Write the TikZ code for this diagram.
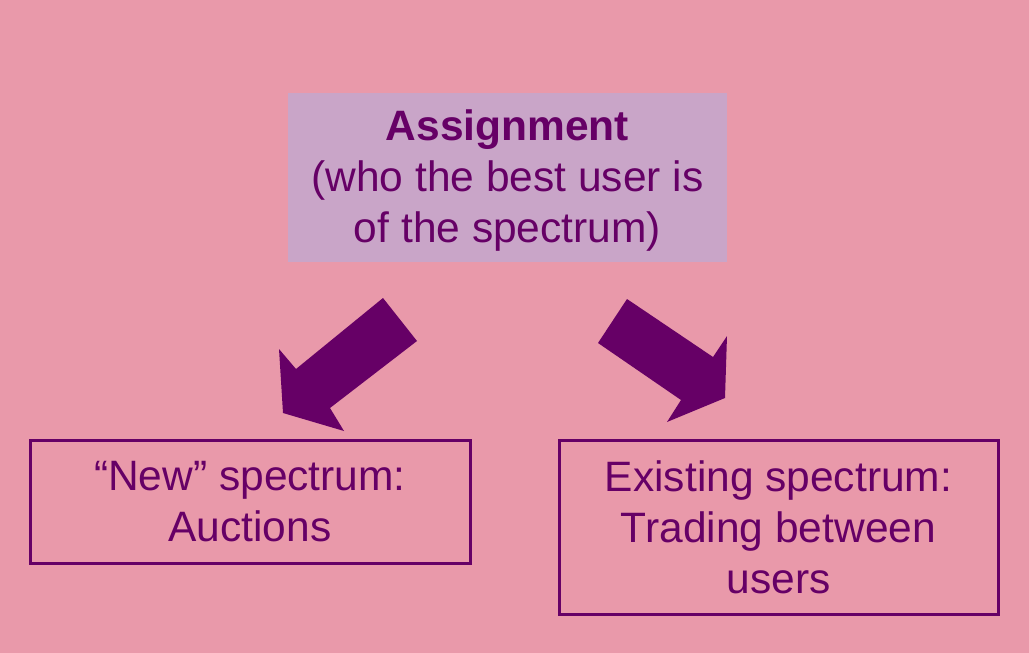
\documentclass[tikz,border=0pt]{standalone}
\usepackage{fontspec}
\setmainfont{Liberation Sans}
\definecolor{bgpink}{HTML}{E999AA}
\definecolor{boxlilac}{HTML}{C9A5C8}
\definecolor{plum}{HTML}{660066}
\begin{document}
\begin{tikzpicture}[x=1pt,y=-1pt,
  txt/.style={font=\fontsize{42.5}{51}\selectfont, text=plum, align=center, inner sep=0pt},
  topbox/.style={fill=boxlilac, minimum width=439pt, minimum height=169pt, inner sep=0pt},
  lowbox/.style={txt, draw=plum, line width=3pt},
  blockarrow/.style={fill=plum, draw=none}]
\fill[bgpink] (0,0) rectangle (1029,653);
\useasboundingbox (0,0) rectangle (1029,653);
\node[topbox] (assign) at (507.5,177.5) {};
\node[txt] (assigntext) at ([yshift=-3pt]assign.center) {\textbf{Assignment}\\(who the best user is\\of the spectrum)};
\node[lowbox, minimum width=440pt, minimum height=123pt] (new) at (250,501.5) {“New” spectrum:\\Auctions};
\node[lowbox, minimum width=439pt, minimum height=174pt] (exist) at (778.5,527) {Existing spectrum:\\Trading between\\users};
\fill[blockarrow] (383,298) -- (417,341) -- (330,408) -- (344,431) -- (283,413) -- (279,349) -- (296,369) -- cycle;
\fill[blockarrow] (627,299) -- (713,357) -- (727,336) -- (725,398) -- (667,422) -- (681,400) -- (598,343) -- cycle;
\end{tikzpicture}
\end{document}
